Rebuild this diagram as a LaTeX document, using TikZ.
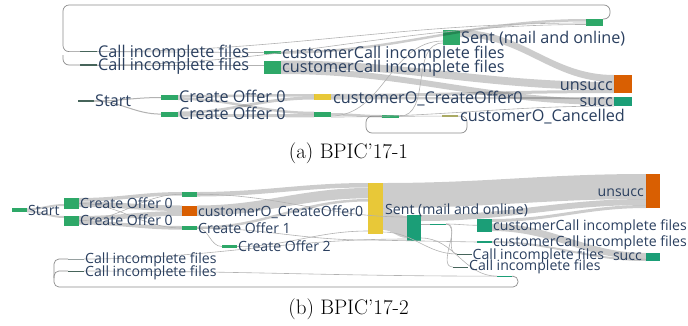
\documentclass[tikz,border=0pt]{standalone}
\usepackage{fontspec}
\newfontfamily\sk{Open Sans}
\definecolor{ctext}{RGB}{42,63,95}
\definecolor{cgreen}{RGB}{46,168,104}
\definecolor{cteal}{RGB}{27,158,119}
\definecolor{corange}{RGB}{217,95,2}
\definecolor{cyellow}{RGB}{232,200,56}
\definecolor{colive}{RGB}{170,170,100}
\definecolor{cdark}{RGB}{70,100,90}
\definecolor{clgray}{RGB}{150,160,160}
\newcommand\nd[6]{%
  \pgfmathsetmacro\ndw{#4-#2}\pgfmathsetmacro\ndh{#5-#3}%
  \node[bx,fill=#6,minimum width=\ndw pt,minimum height=\ndh pt] (#1) at ({(#2+#4)/2},{(#3+#5)/2}) {};}
\newcommand\band[4]{\fill[flow] #1 to[out=0,in=180] #3 -- #4 to[out=180,in=0] #2 -- cycle;}
\tikzset{
  bx/.style={rectangle, inner sep=0pt, outer sep=0pt, draw=none},
  flow/.style={fill=black, fill opacity=0.2},
  thinflow/.style={draw=black!30, line width=0.6pt},
  loopline/.style={draw=black!45, line width=0.7pt, rounded corners=6pt},
  la/.style={anchor=base west, inner sep=0pt, text=ctext, font=\sk\fontsize{16.2}{18}\selectfont},
  lar/.style={la, anchor=base east},
  lb/.style={anchor=base west, inner sep=0pt, text=ctext, font=\sk\fontsize{14.1}{16}\selectfont},
  lbr/.style={lb, anchor=base east},
  capt/.style={anchor=base, inner sep=0pt, font=\fontsize{21}{25}\selectfont}
}
\begin{document}
\begin{tikzpicture}[x=1pt,y=-1pt]
\path[use as bounding box] (0,0) rectangle (688,325);
% ---------------- panel (a) ----------------
\nd{ciA1}{80}{51}{97}{52.2}{cdark}
\nd{ciA2}{80}{64.4}{97}{65.6}{cdark}
\nd{ccA1}{264}{51.3}{281}{53.8}{cgreen}
\nd{ccA2}{264}{60.5}{281}{74}{cgreen}
\nd{sentA}{443}{30}{460}{45}{cgreen}
\nd{topA}{586}{19}{603}{26}{cgreen}
\nd{startA}{78}{100.4}{94}{101.6}{cdark}
\nd{co0A1}{161}{95}{178}{100}{cgreen}
\nd{co0A2}{161}{111.5}{178}{116.7}{cgreen}
\nd{coA}{314}{94}{331}{99.5}{cyellow}
\nd{gA1}{314}{111.7}{331}{117.3}{cgreen}
\nd{gA2}{382}{115}{399}{117.5}{cgreen}
\nd{canA}{442}{115.4}{458}{116.8}{colive}
\nd{unsA}{614}{75}{632}{93}{corange}
\nd{sucA}{614}{97}{632}{106}{cteal}
% flows (a)
\band{(178,95)}{(178,97.5)}{(314,94)}{(314,96.5)}
\band{(178,97.5)}{(178,100)}{(314,111.7)}{(314,114.2)}
\band{(178,111.5)}{(178,114)}{(314,96.5)}{(314,99.5)}
\band{(178,114)}{(178,116.7)}{(314,114.2)}{(314,117.3)}
\band{(460,30)}{(460,37)}{(614,75)}{(614,82)}
\band{(281,60.5)}{(281,68)}{(614,82)}{(614,90)}
\band{(281,68)}{(281,74)}{(614,99)}{(614,105)}
\band{(331,94)}{(331,97)}{(614,90)}{(614,93)}
\band{(331,97)}{(331,99.5)}{(614,97)}{(614,99)}
\band{(331,113)}{(331,115.5)}{(382,115)}{(382,117.5)}
\band{(281,51.3)}{(281,53.8)}{(586,19)}{(586,21.5)}
\draw[thinflow] (ciA1.east) -- (ccA1.west);
\draw[thinflow] (ciA2.east) -- (ccA2.west |- ciA2.east);
\draw[thinflow] (ciA1.east) to[out=0,in=180] (586,23);
\draw[thinflow] (ciA2.east) to[out=0,in=180] (586,24.5);
\draw[thinflow] (331,116) to[out=0,in=180] (443,41);
\draw[thinflow] (gA2.east) to[out=0,in=180] (443,43);
\draw[thinflow] (gA2.east) -- (canA.west);
\draw[thinflow] (331,117) to[out=0,in=180] (sucA.south west);
\draw[thinflow, line width=1pt] (startA.east) to[out=0,in=180] (co0A1.west);
\draw[thinflow, line width=1pt] (startA.east) to[out=0,in=180] (co0A2.west);
% loops (a)
\draw[loopline] (topA.north east) -- (610,19) -- (610,5) -- (63,5) -- (63,51.6) -- (ciA1.west);
\draw[loopline] (63,55) -- (63,65) -- (ciA2.west);
\draw[loopline] (canA.east) -- (467,116.1) -- (467,133) -- (366,133) -- (366,116.2) -- (gA2.west);
% labels (a)
\node[la] (tciA1) at (98,57) {Call incomplete files};
\node[la] (tciA2) at (98,70.3) {Call incomplete files};
\node[la] (tccA1) at (282,58.3) {customerCall incomplete files};
\node[la] (tccA2) at (282,72.7) {customerCall incomplete files};
\node[la] (tsentA) at (461,43.3) {Sent (mail and online)};
\node[la] (tstartA) at (95,106.6) {Start};
\node[la] (tco0A1) at (179,102.6) {Create Offer 0};
\node[la] (tco0A2) at (179,119.2) {Create Offer 0};
\node[la] (tcoA) at (333,103.3) {customerO\_CreateOffer0};
\node[la] (tcanA) at (460,121) {customerO\_Cancelled};
\node[lar] (tunsA) at (613,90.6) {unsucc};
\node[lar] (tsucA) at (613,106.6) {succ};
\node[capt] (capA) at (348.5,158.3) {(a) BPIC'17-1};
% ---------------- panel (b) ----------------
\nd{startB}{12}{208.3}{27}{212.3}{cgreen}
\nd{co0B1}{64}{198}{79}{209}{cgreen}
\nd{co0B2}{64}{216}{79}{225.5}{cgreen}
\nd{gB1}{182}{192}{197}{196.5}{cgreen}
\nd{coB}{182}{205.5}{197}{215.8}{corange}
\nd{co1B}{182}{226}{197}{230}{cgreen}
\nd{co2B}{222}{245}{237}{248}{cgreen}
\nd{sentB}{368}{183}{383}{234}{cyellow}
\nd{gB2}{407}{215}{421}{241}{cteal}
\nd{gB3}{430}{223.5}{446}{224.5}{cteal}
\nd{ccB1}{477}{219}{492}{231.5}{cteal}
\nd{ccB2}{477}{241}{492}{243}{cteal}
\nd{ciB3}{457}{253.5}{472}{254.5}{cdark}
\nd{ciB4}{453}{266.5}{468}{267.5}{cdark}
\nd{gB4}{497}{275.5}{512}{276.8}{cteal}
\nd{unsB}{646}{174}{660}{208}{corange}
\nd{sucB}{646}{253}{660}{261}{cteal}
\nd{ciB1}{68}{258.5}{84}{259.5}{clgray}
\nd{ciB2}{68}{270.5}{84}{271.5}{cdark}
% flows (b)
\band{(27,208.3)}{(27,210.3)}{(64,204)}{(64,206)}
\band{(27,210.3)}{(27,212.3)}{(64,216)}{(64,218)}
\band{(79,198)}{(79,201.5)}{(182,192)}{(182,195.5)}
\band{(79,201.5)}{(79,207)}{(182,205.5)}{(182,211)}
\band{(79,216)}{(79,220.8)}{(182,211)}{(182,215.8)}
\band{(79,220.8)}{(79,224.5)}{(182,226)}{(182,229.7)}
\band{(197,205.5)}{(197,215.8)}{(368,188)}{(368,198.3)}
\band{(197,192)}{(197,196.5)}{(368,183)}{(368,187.5)}
\band{(197,226.5)}{(197,229)}{(368,199)}{(368,201.5)}
\band{(383,183)}{(383,208)}{(646,174)}{(646,199)}
\band{(383,208)}{(383,230)}{(407,216)}{(407,238)}
\band{(421,215)}{(421,221)}{(646,199)}{(646,205)}
\band{(492,219)}{(492,222)}{(646,205)}{(646,208)}
\band{(492,223.5)}{(492,231)}{(646,253)}{(646,259.5)}
\band{(492,241)}{(492,243)}{(646,259)}{(646,261)}
\draw[thinflow] (co1B.east) to[out=0,in=180] (co2B.west);
\draw[thinflow] (co2B.east) to[out=0,in=180] (368,231);
\draw[thinflow] (co1B.east) to[out=0,in=180] (368,240) -- (ccB2.west);
\draw[thinflow] (ciB1.east) to[out=0,in=180] (407,239);
\draw[thinflow] (ciB2.east) to[out=0,in=180] (gB4.west);
\draw[thinflow] (gB2.east |- gB3.west) -- (gB3.west);
\draw[thinflow] (gB3.east) to[out=0,in=180] (ccB1.west);
\draw[thinflow] (gB3.east) to[out=0,in=180] (ciB3.west);
\draw[thinflow] (gB3.east) to[out=0,in=180] (ciB4.west);
\draw[thinflow] (421,238) to[out=0,in=180] (gB4.west);
\draw[thinflow] (383,232) to[out=0,in=180] (ciB3.west);
\draw[thinflow] (co0B1.east) to[out=0,in=180] (co1B.west);
\draw[thinflow] (co0B2.east) to[out=0,in=180] (gB1.west);
\draw[thinflow] (gB1.east) to[out=0,in=180] (407,217);
% loops (b)
\draw[loopline,rounded corners=5pt] (gB4.east) -- (518,276.2) -- (518,287) -- (54,287) -- (54,259) -- (ciB1.west);
\draw[loopline,rounded corners=5pt] (54,278) -- (54,271) -- (ciB2.west);
% labels (b)
\node[lb] (tstartB) at (28,215) {Start};
\node[lb] (tco0B1) at (80,208.3) {Create Offer 0};
\node[lb] (tco0B2) at (80,225) {Create Offer 0};
\node[lb] (tcoB) at (198,216) {customerO\_CreateOffer0};
\node[lb] (tco1B) at (198,233.3) {Create Offer 1};
\node[lb] (tco2B) at (238,251) {Create Offer 2};
\node[lb] (tciB1) at (85,263.3) {Call incomplete files};
\node[lb] (tciB2) at (85,276) {Call incomplete files};
\node[lb] (tsentB) at (385,214.3) {Sent (mail and online)};
\node[lb] (tccB1) at (493,230.7) {customerCall incomplete files};
\node[lb] (tccB2) at (493,246.7) {customerCall incomplete files};
\node[lb] (tciB3) at (472.5,259.3) {Call incomplete files};
\node[lb] (tciB4) at (469,270.7) {Call incomplete files};
\node[lbr] (tunsB) at (644,196.7) {unsucc};
\node[lbr] (tsucB) at (642,260.7) {succ};
\node[capt] (capB) at (348.5,314.5) {(b) BPIC'17-2};
\end{tikzpicture}
\end{document}
